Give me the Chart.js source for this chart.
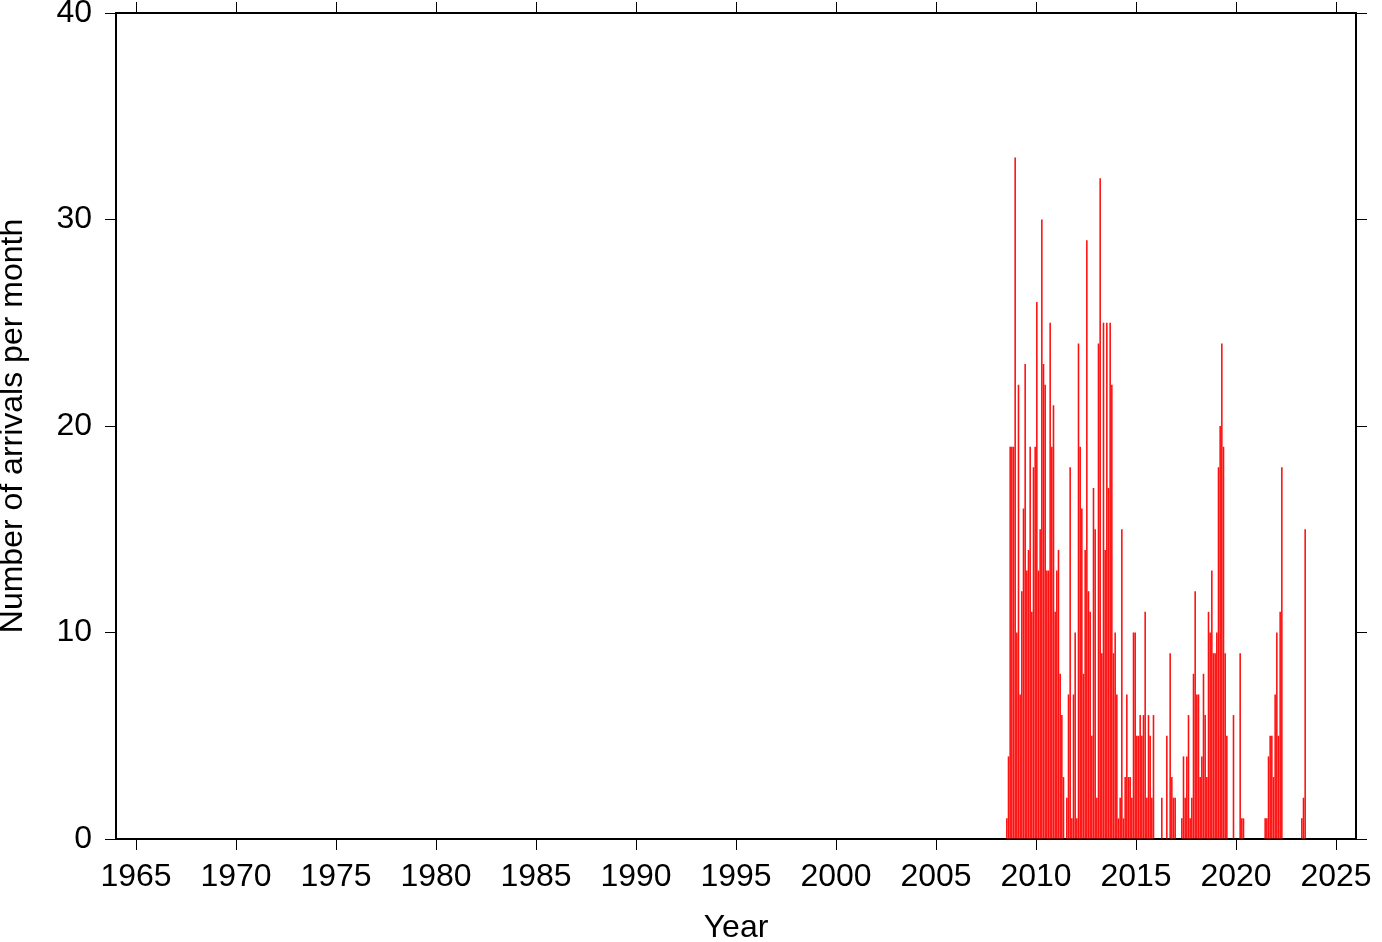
<!DOCTYPE html>
<html>
<head>
<meta charset="utf-8">
<script src="https://cdn.jsdelivr.net/npm/chart.js@4/dist/chart.umd.min.js"></script>
<style>
  html, body { margin: 0; padding: 0; background: #fff; }
</style>
</head>
<body>
<canvas id="arrivals" width="1382" height="942"></canvas>
<script>
// monthly counts, first bar is July 2008
const firstYear = 2008;
const firstMonth = 7;
const arrivals = [
  1, 4, 19, 19, 19, 33,                          // 2008 Jul-Dec
  10, 22, 7, 12, 16, 23, 13, 14, 19, 11, 18, 19, // 2009
  26, 13, 15, 30, 23, 22, 13, 13, 25, 19, 21, 11, // 2010
  13, 14, 8, 6, 3, 0, 2, 7, 18, 1, 7, 10,        // 2011
  1, 24, 19, 16, 8, 14, 29, 12, 11, 5, 17, 15,   // 2012
  2, 24, 32, 9, 25, 14, 25, 17, 25, 22, 9, 10,   // 2013
  7, 1, 2, 15, 1, 3, 7, 3, 3, 2, 10, 10,         // 2014
  5, 5, 6, 5, 6, 11, 2, 6, 5, 2, 6, 0,           // 2015
  0, 0, 0, 2, 0, 0, 5, 0, 9, 3, 2, 2,            // 2016
  0, 0, 0, 1, 4, 2, 4, 6, 1, 2, 8, 12,           // 2017
  7, 7, 3, 4, 8, 6, 3, 11, 10, 13, 9, 9,         // 2018
  10, 18, 20, 24, 19, 9, 5, 0, 0, 0, 6, 0,       // 2019
  0, 0, 9, 1, 1, 0, 0, 0, 0, 0, 0, 0,            // 2020
  0, 0, 0, 0, 0, 1, 1, 4, 5, 5, 3, 7,            // 2021
  10, 5, 11, 18, 0, 0, 0, 0, 0, 0, 0, 0,         // 2022
  0, 0, 0, 1, 2, 15                              // 2023 Jan-Jun
];
const yearTicks = [1965, 1970, 1975, 1980, 1985, 1990, 1995, 2000, 2005, 2010, 2015, 2020, 2025];
const countTicks = [0, 10, 20, 30, 40];

const font = { family: '"Liberation Sans", Arial, Helvetica, sans-serif', size: 32, lineHeight: 1 };

// bar centred in the middle of its month
const points = arrivals.map((n, i) => ({
  x: firstYear + (firstMonth - 1 + i + 0.5) / 12,
  y: n
}));

const frame = { display: true, color: '#000', width: 2 };
const tickMarks = { display: true, offset: false, drawOnChartArea: false, drawTicks: true, tickLength: 11, color: '#000', lineWidth: 1 };

// fixed box sizes so the plot frame sits where the reference has it
const fixX = h => a => { a.height = h; a.paddingLeft = 0; a.paddingRight = 0; };
const fixY = w => a => { a.width = w; a.paddingTop = 0; a.paddingBottom = 0; };

new Chart(document.getElementById('arrivals'), {
  type: 'bar',
  data: {
    datasets: [{
      data: points,
      backgroundColor: 'rgb(255, 16, 16)',
      borderWidth: 0,
      barPercentage: 0.95,
      categoryPercentage: 1
    }]
  },
  options: {
    responsive: false,
    animation: false,
    layout: { padding: 0 },
    plugins: { legend: { display: false }, tooltip: { enabled: false } },
    scales: {
      x: {
        type: 'linear',
        position: 'bottom',
        min: 1964,
        max: 2026,
        offset: false,
        afterBuildTicks: a => { a.ticks = yearTicks.map(v => ({ value: v })); },
        afterFit: fixX(103),
        ticks: { color: '#000', font: font, padding: 11, maxRotation: 0, autoSkip: false, callback: v => String(v) },
        grid: tickMarks,
        border: frame,
        title: { display: true, text: 'Year', color: '#000', font: font, padding: { top: 0, bottom: -2 } }
      },
      x2: {
        type: 'linear',
        axis: 'x',
        position: 'top',
        min: 1964,
        max: 2026,
        offset: false,
        afterBuildTicks: a => { a.ticks = yearTicks.map(v => ({ value: v })); },
        afterFit: fixX(13),
        ticks: { display: false },
        grid: tickMarks,
        border: frame
      },
      y: {
        type: 'linear',
        position: 'left',
        min: 0,
        max: 40,
        afterBuildTicks: a => { a.ticks = countTicks.map(v => ({ value: v })); },
        afterFit: fixY(116),
        ticks: { color: '#000', font: font, padding: 13 },
        grid: tickMarks,
        border: frame,
        title: { display: true, text: 'Number of arrivals per month', color: '#000', font: font, padding: { top: -2.5, bottom: 0 } }
      },
      y2: {
        type: 'linear',
        axis: 'y',
        position: 'right',
        min: 0,
        max: 40,
        afterBuildTicks: a => { a.ticks = countTicks.map(v => ({ value: v })); },
        afterFit: fixY(26),
        ticks: { display: false },
        grid: tickMarks,
        border: frame
      }
    }
  }
});
</script>
</body>
</html>
